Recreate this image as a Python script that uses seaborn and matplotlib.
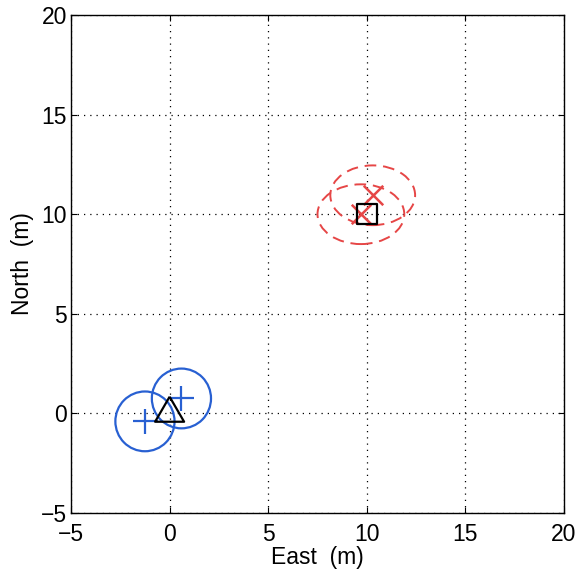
import matplotlib
matplotlib.use("Agg")
import matplotlib.pyplot as plt
from matplotlib.patches import Ellipse
import seaborn as sns
import pandas as pd

# --- data ---
gps_east = [-1.25, 0.6]
gps_north = [-0.4, 0.75]
gps_radius = [1.5, 1.5]

est_east = [9.7, 10.3]
est_north = [10.0, 10.95]
est_semi_east = [2.2, 2.15]
est_semi_north = [1.5, 1.5]

true_a_east = [0.0]
true_a_north = [0.0]
true_b_east = [10.0]
true_b_north = [10.0]

ticks = [-5, 0, 5, 10, 15, 20]

sns.set_theme(style="white")
plt.rcParams["font.family"] = ["Liberation Sans", "DejaVu Sans"]

fig = plt.figure(figsize=(5.78, 5.71), dpi=100)
ax = fig.add_axes([71 / 578, 1 - 513 / 571, (564 - 71) / 578, (513 - 15) / 571])

blue = "#2860d2"
red = "#e64646"

# blue circles (GPS uncertainty)
for e, n, r in zip(gps_east, gps_north, gps_radius):
    ax.add_patch(Ellipse((e, n), 2 * r, 2 * r, fill=False, ec=blue, lw=1.6, zorder=3))
# red dashed ellipses
for e, n, a, b in zip(est_east, est_north, est_semi_east, est_semi_north):
    ax.add_patch(Ellipse((e, n), 2 * a, 2 * b, fill=False, ec=red, lw=1.4,
                         ls=(0, (6, 3.5)), zorder=3))

df_gps = pd.DataFrame({"east": gps_east, "north": gps_north})
df_est = pd.DataFrame({"east": est_east, "north": est_north})
df_a = pd.DataFrame({"east": true_a_east, "north": true_a_north})
df_b = pd.DataFrame({"east": true_b_east, "north": true_b_north})

sns.scatterplot(data=df_gps, x="east", y="north", marker="+", s=18 ** 2,
                color=blue, linewidth=1.6, ax=ax, zorder=4)
sns.scatterplot(data=df_est, x="east", y="north", marker="x", s=14 ** 2,
                color=red, linewidth=1.8, ax=ax, zorder=4)
tri = [(0, 2), (-1.74, -1), (1.74, -1), (0, 2)]
sns.scatterplot(data=df_a, x="east", y="north", marker=tri, s=24 ** 2,
                facecolor="none", edgecolor="black", linewidth=1.6, ax=ax, zorder=5)
sns.scatterplot(data=df_b, x="east", y="north", marker="s", s=14.4 ** 2,
                facecolor="none", edgecolor="black", linewidth=1.6, ax=ax, zorder=5)

ax.set_xlim(-5, 20)
ax.set_ylim(-5, 20)
ax.set_xticks(ticks)
ax.set_yticks(ticks)
ax.set_xticklabels([str(t).replace("-", "\u2212") for t in ticks])
ax.set_yticklabels([str(t).replace("-", "\u2212") for t in ticks])
ax.grid(True, color="black", linestyle=(0, (1, 4)), linewidth=0.9)
ax.set_axisbelow(True)
for s in ax.spines.values():
    s.set_color("black")
    s.set_linewidth(1.0)
ax.tick_params(axis="both", direction="in", length=4, width=0.8, color="black",
               top=True, right=True, bottom=True, left=True, labelsize=16.5,
               labelcolor="black")
ax.tick_params(axis="x", pad=7)
ax.tick_params(axis="y", pad=3)
ax.set_xlabel("East  (m)", fontsize=16.5, color="black", labelpad=0)
ax.set_ylabel("North  (m)", fontsize=16.5, color="black", labelpad=5)
ax.set_facecolor("white")
fig.patch.set_facecolor("white")

fig.savefig("out.png", dpi=100)
